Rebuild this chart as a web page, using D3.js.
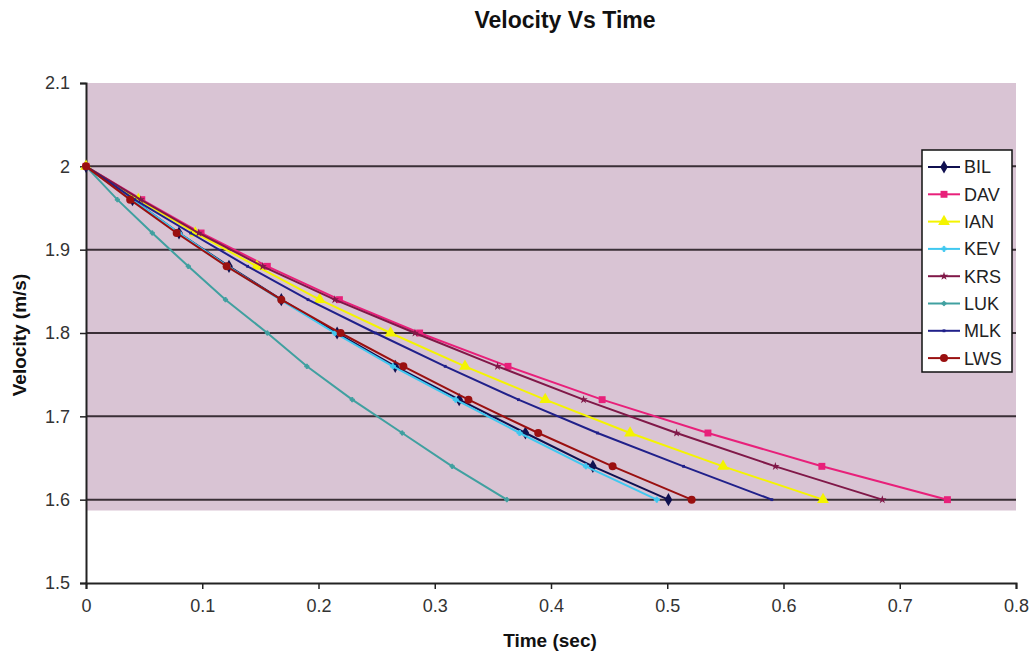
<!DOCTYPE html>
<html>
<head>
<meta charset="utf-8">
<script src="https://cdn.jsdelivr.net/npm/d3@7"></script>
<style>
  body { margin: 0; background: #fff; }
  svg { display: block; font-family: "Liberation Sans", Arial, sans-serif; }
</style>
</head>
<body>
<div></div>
<script>
const width = 1032;
const height = 658;

// velocity steps shared by every run
const velocities = [2.0, 1.96, 1.92, 1.88, 1.84, 1.8, 1.76, 1.72, 1.68, 1.64, 1.6];

// time (sec) at each velocity step
const timeBIL = [0, 0.040, 0.080, 0.123, 0.168, 0.216, 0.266, 0.321, 0.378, 0.436, 0.501];
const timeDAV = [0, 0.048, 0.099, 0.156, 0.218, 0.287, 0.363, 0.444, 0.535, 0.633, 0.741];
const timeIAN = [0, 0.045, 0.094, 0.147, 0.201, 0.262, 0.326, 0.395, 0.468, 0.548, 0.634];
const timeKEV = [0, 0.040, 0.080, 0.122, 0.167, 0.214, 0.264, 0.318, 0.373, 0.430, 0.491];
const timeKRS = [0, 0.047, 0.097, 0.152, 0.214, 0.283, 0.354, 0.428, 0.508, 0.593, 0.685];
const timeLUK = [0, 0.027, 0.057, 0.088, 0.120, 0.156, 0.190, 0.229, 0.272, 0.315, 0.362];
const timeMLK = [0, 0.042, 0.090, 0.139, 0.191, 0.249, 0.309, 0.372, 0.440, 0.514, 0.590];
const timeLWS = [0, 0.038, 0.078, 0.121, 0.168, 0.219, 0.273, 0.329, 0.389, 0.453, 0.521];

const seriesNames = ["BIL", "DAV", "IAN", "KEV", "KRS", "LUK", "MLK", "LWS"];
const seriesTimes = [timeBIL, timeDAV, timeIAN, timeKEV, timeKRS, timeLUK, timeMLK, timeLWS];
const seriesColours = ["#101050", "#e8207a", "#f4f400", "#40c8f0", "#801848", "#40a0a0", "#20208a", "#9a1010"];
const seriesSymbols = [d3.symbolDiamond, d3.symbolSquare, d3.symbolTriangle, d3.symbolCross,
  d3.symbolStar, d3.symbolCross, d3.symbolSquare, d3.symbolCircle];
const symbolSizes = [50, 48, 60, 14, 22, 10, 8, 50];

const xTicks = [0, 0.1, 0.2, 0.3, 0.4, 0.5, 0.6, 0.7, 0.8];
const yTicks = [1.5, 1.6, 1.7, 1.8, 1.9, 2.0, 2.1];

const margin = { left: 86, right: 16, top: 83, bottom: 75 };

const svg = d3.select("div").append("svg")
  .attr("width", width)
  .attr("height", height);

const x = d3.scaleLinear().domain([0, 0.8]).range([margin.left, width - margin.right]);
const y = d3.scaleLinear().domain([1.5, 2.1]).range([height - margin.bottom, margin.top]);

// plot area background (mauve band stops just under 1.6)
svg.append("rect")
  .attr("x", x(0))
  .attr("y", y(2.1))
  .attr("width", x(0.8) - x(0))
  .attr("height", y(1.587) - y(2.1))
  .attr("fill", "#d9c4d4");

// horizontal gridlines
svg.append("g")
  .selectAll("line")
  .data(yTicks.filter(d => d > 1.5 && d < 2.1))
  .enter()
  .append("line")
  .attr("x1", x(0))
  .attr("x2", x(0.8))
  .attr("y1", d => y(d))
  .attr("y2", d => y(d))
  .attr("stroke", "#3a2f36")
  .attr("stroke-width", 2);

// axes
const xAxis = d3.axisBottom(x).tickValues(xTicks).tickSize(6).tickPadding(10)
  .tickFormat(d => d3.format("")(+d.toFixed(1)));
const yAxis = d3.axisLeft(y).tickValues(yTicks).tickSize(6).tickPadding(10)
  .tickFormat(d => d3.format("")(+d.toFixed(1)));

const gx = svg.append("g")
  .attr("transform", "translate(0," + y(1.5) + ")")
  .call(xAxis);
const gy = svg.append("g")
  .attr("transform", "translate(" + x(0) + ",0)")
  .call(yAxis);

[gx, gy].forEach(g => {
  g.select(".domain").attr("stroke", "#222").attr("stroke-width", 2);
  g.selectAll(".tick line").attr("stroke", "#222").attr("stroke-width", 1.5);
  g.selectAll(".tick text")
    .attr("fill", "#333")
    .style("font-size", "18px")
    .style("font-family", "'Liberation Sans', Arial, sans-serif");
});

// lines and markers
const line = d3.line()
  .x(d => x(d.t))
  .y(d => y(d.v));

seriesNames.forEach((name, i) => {
  const points = seriesTimes[i].map((t, j) => ({ t: t, v: velocities[j] }));
  const g = svg.append("g").attr("class", "series");
  g.append("path")
    .datum(points)
    .attr("d", line)
    .attr("fill", "none")
    .attr("stroke", seriesColours[i])
    .attr("stroke-width", 2);
  g.selectAll("path.marker")
    .data(points)
    .enter()
    .append("path")
    .attr("class", "marker")
    .attr("d", d3.symbol().type(seriesSymbols[i]).size(symbolSizes[i]))
    .attr("transform", d => "translate(" + x(d.t) + "," + y(d.v) + ")")
    .attr("fill", seriesColours[i])
    .attr("stroke", seriesColours[i])
    .attr("stroke-width", i === 3 || i === 5 ? 1 : 0);
});

// legend
const legend = svg.append("g").attr("transform", "translate(922,150)");
legend.append("rect")
  .attr("width", 90)
  .attr("height", 222)
  .attr("fill", "#fff")
  .attr("stroke", "#111")
  .attr("stroke-width", 1.5);

const items = legend.selectAll("g")
  .data(seriesNames)
  .enter()
  .append("g")
  .attr("transform", (d, i) => "translate(0," + (17 + i * 27.3) + ")");

items.append("line")
  .attr("x1", 6)
  .attr("x2", 38)
  .attr("stroke", (d, i) => seriesColours[i])
  .attr("stroke-width", 2);
items.append("path")
  .attr("d", (d, i) => d3.symbol().type(seriesSymbols[i]).size(symbolSizes[i])())
  .attr("transform", "translate(22,0)")
  .attr("fill", (d, i) => seriesColours[i])
  .attr("stroke", (d, i) => seriesColours[i])
  .attr("stroke-width", (d, i) => (i === 3 || i === 5 ? 1 : 0));
items.append("text")
  .attr("x", 42)
  .attr("dy", "0.36em")
  .attr("fill", "#222")
  .style("font-size", "18px")
  .text(d => d);

// titles
svg.append("text")
  .attr("x", 565)
  .attr("y", 28)
  .attr("text-anchor", "middle")
  .style("font-size", "23px")
  .style("font-weight", "bold")
  .attr("fill", "#111")
  .text("Velocity Vs Time");

svg.append("text")
  .attr("x", 550)
  .attr("y", 647)
  .attr("text-anchor", "middle")
  .style("font-size", "19px")
  .style("font-weight", "bold")
  .attr("fill", "#111")
  .text("Time (sec)");

svg.append("text")
  .attr("transform", "translate(26,335) rotate(-90)")
  .attr("text-anchor", "middle")
  .style("font-size", "19px")
  .style("font-weight", "bold")
  .attr("fill", "#111")
  .text("Velocity (m/s)");
</script>
</body>
</html>
